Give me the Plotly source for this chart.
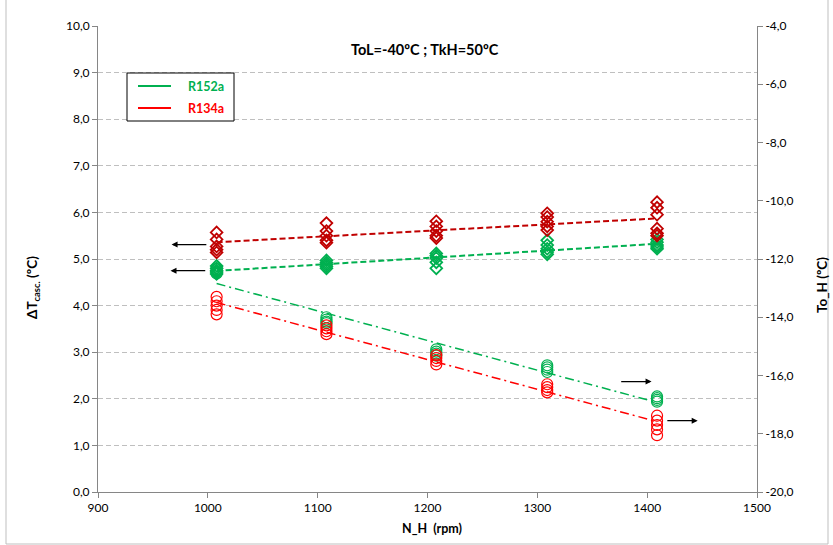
import numpy as np
import plotly.graph_objects as go

# ---- data ----
nh_groups = [1008, 1108, 1208, 1309, 1409]

dt_r134a = [
    [5.57, 5.42, 5.27, 5.20, 5.14],
    [5.77, 5.60, 5.50, 5.40, 5.35],
    [5.81, 5.70, 5.60, 5.50, 5.45],
    [5.98, 5.90, 5.80, 5.70, 5.62],
    [6.22, 6.10, 5.95, 5.65, 5.55, 5.50],
]
dt_r152a = [
    [4.85, 4.80, 4.75, 4.72, 4.68],
    [4.97, 4.92, 4.88, 4.84, 4.80],
    [5.12, 5.07, 5.02, 4.93, 4.80],
    [5.40, 5.30, 5.22, 5.15, 5.10],
    [5.42, 5.36, 5.30, 5.26, 5.22],
]
toh_r152a = [
    [-12.35, -12.42, -12.50],
    [-14.00, -14.08, -14.15, -14.20],
    [-15.10, -15.18, -15.25, -15.32],
    [-15.65, -15.72, -15.80, -15.88],
    [-16.72, -16.78, -16.84, -16.90],
]
toh_r134a = [
    [-13.30, -13.45, -13.60, -13.75, -13.90],
    [-14.28, -14.38, -14.48, -14.58],
    [-15.30, -15.40, -15.50, -15.62],
    [-16.30, -16.40, -16.50, -16.58],
    [-17.38, -17.55, -17.70, -17.85, -18.05],
]

x_ticks = [900, 1000, 1100, 1200, 1300, 1400, 1500]
y_ticks = [0, 1, 2, 3, 4, 5, 6, 7, 8, 9, 10]
y2_ticks = [-20, -18, -16, -14, -12, -10, -8, -6, -4]
legend_names = ["R152a", "R134a"]

GREEN = "#00B050"
DARKRED = "#C00000"
RED = "#FF0000"
FONT = "Lato, Carlito, Calibri, sans-serif"


def flatten(groups):
    xs, ys = [], []
    for xv, vals in zip(nh_groups, groups):
        for v in vals:
            xs.append(xv)
            ys.append(v)
    return np.array(xs, float), np.array(ys, float)


def trend(xs, ys):
    k, b = np.polyfit(xs, ys, 1)
    xl = np.array([min(nh_groups), max(nh_groups)], float)
    return xl, k * xl + b


def fmt(v):
    return ("%.1f" % v).replace(".", ",")


fig = go.Figure()

# diamonds (left axis)
for groups, col in [(dt_r152a, GREEN), (dt_r134a, DARKRED)]:
    xs, ys = flatten(groups)
    xl, yl = trend(xs, ys)
    fig.add_trace(go.Scatter(x=xl, y=yl, mode="lines", showlegend=False,
                             line=dict(color=col, width=2, dash="6px,3px"), yaxis="y"))
    fig.add_trace(go.Scatter(x=xs, y=ys, mode="markers", showlegend=False, yaxis="y",
                             marker=dict(symbol="diamond-open", size=9, color=col,
                                         line=dict(color=col, width=1.8))))

# circles (right axis)
for groups, col in [(toh_r152a, GREEN), (toh_r134a, RED)]:
    xs, ys = flatten(groups)
    xl, yl = trend(xs, ys)
    fig.add_trace(go.Scatter(x=xl, y=yl, mode="lines", showlegend=False, yaxis="y2",
                             line=dict(color=col, width=1.5, dash="9px,4px,2px,4px")))
    fig.add_trace(go.Scatter(x=xs, y=ys, mode="markers", showlegend=False, yaxis="y2",
                             marker=dict(symbol="circle-open", size=11, color=col,
                                         line=dict(color=col, width=1.2))))

# arrows
arrows = [
    (1000, 5.31, 967, 5.31),
    (999, 4.75, 966, 4.75),
    (1375, 2.37, 1404, 2.37),
    (1417, 1.53, 1446, 1.53),
]
for x0, y0, x1, y1 in arrows:
    fig.add_annotation(x=x1, y=y1, ax=x0, ay=y0, xref="x", yref="y", axref="x", ayref="y",
                       showarrow=True, arrowhead=2, arrowsize=1, arrowwidth=1.2,
                       arrowcolor="black", text="")

L, R, T, B = 98, 76, 26, 53
PW, PH = 833 - L - R, 545 - T - B


def px(xp):
    return (xp - L) / PW


def py(yp):
    return (545 - B - yp) / PH


def label(text, x, y, size, angle=0):
    fig.add_annotation(text=text, x=px(x), y=py(y), xref="paper", yref="paper",
                       xanchor="center", yanchor="middle", showarrow=False, textangle=angle,
                       font=dict(size=size, color="black", family=FONT))


label("<b>ToL=-40ºC ; TkH=50ºC</b>", 425, 49, 14.5)
label("<b>ΔT<sub>casc.</sub> (ºC)</b>", 33, 288, 13.5, -90)
label("<b>To_H (ºC)</b>", 822, 285, 13.5, -90)
label("<b>N_H  (rpm)</b>", 432, 528, 12.5)

# legend box (manual, to match the original layout)
fig.add_shape(type="rect", xref="paper", yref="paper", x0=px(127), x1=px(234), y0=py(121), y1=py(73),
              line=dict(color="black", width=1), fillcolor="white", layer="above")
for i, (name, col) in enumerate(zip(legend_names, [GREEN, RED])):
    yy = 86 + 22 * i
    fig.add_shape(type="line", xref="paper", yref="paper", x0=px(138), x1=px(171), y0=py(yy), y1=py(yy),
                  line=dict(color=col, width=2), layer="above")
    fig.add_annotation(text="<b>%s</b>" % name, x=px(186), y=py(yy), xref="paper", yref="paper",
                       xanchor="left", yanchor="middle", showarrow=False,
                       font=dict(size=12.5, color=col, family=FONT))

# outer chart border
fig.add_shape(type="rect", xref="paper", yref="paper", x0=px(6), x1=px(828), y0=py(544), y1=py(-2),
              line=dict(color="#BFBFBF", width=1), layer="below")

axis_common = dict(showline=True, linecolor="#868686", linewidth=1, ticks="outside", ticklen=5,
                   tickcolor="#868686", tickfont=dict(size=12, color="black", family=FONT),
                   zeroline=False)

fig.update_layout(
    width=833, height=545,
    margin=dict(l=L, r=R, t=T, b=B),
    paper_bgcolor="white", plot_bgcolor="white",
    font=dict(family=FONT, color="black"),
    xaxis=dict(range=[900, 1500], tickvals=x_ticks, ticktext=[str(v) for v in x_ticks],
               showgrid=False, **axis_common),
    yaxis=dict(range=[0, 10], tickvals=y_ticks, ticktext=[fmt(v) for v in y_ticks],
               showgrid=True, gridcolor="#BFBFBF", griddash="5px,3px", gridwidth=1, **axis_common),
    yaxis2=dict(range=[-20, -4], tickvals=y2_ticks, ticktext=[fmt(v) for v in y2_ticks],
                overlaying="y", side="right", showgrid=False, **axis_common),
    showlegend=False,
)

fig.write_html("out.html")
